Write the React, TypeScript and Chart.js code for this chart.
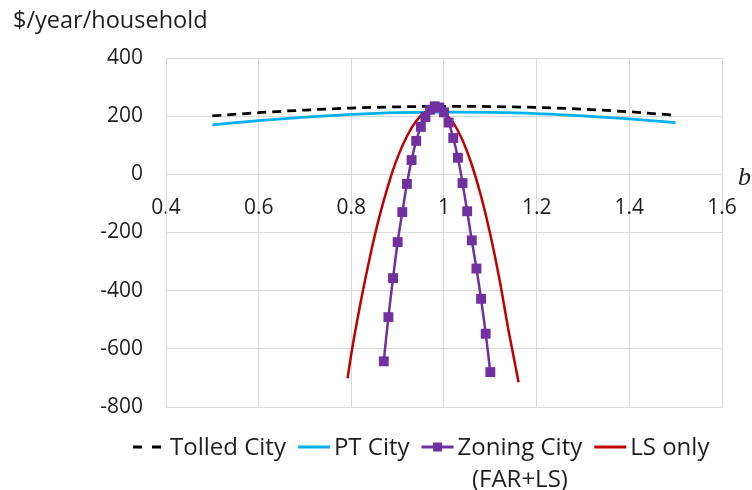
import React, { useEffect, useRef } from 'react';
import { Chart, registerables } from 'chart.js';

Chart.register(...registerables);

// ---- data ----
const xTickLabels = ['0.4', '0.6', '0.8', '1', '1.2', '1.4', '1.6'];
const yTickLabels = ['-800', '-600', '-400', '-200', '0', '200', '400'];

const tolledX = [0.5, 0.6, 0.7, 0.8, 0.9, 1.0, 1.1, 1.2, 1.3, 1.4, 1.5];
const tolledY = [201, 212, 221, 228, 232, 234, 233, 230, 224, 215, 203];

const ptX = [0.5, 0.6, 0.7, 0.8, 0.9, 1.0, 1.1, 1.2, 1.3, 1.4, 1.5];
const ptY = [170, 185, 197, 206, 212, 214, 213, 209, 201, 191, 178];

const zoningX = [0.87, 0.88, 0.89, 0.9, 0.91, 0.92, 0.93, 0.94, 0.95, 0.96, 0.97, 0.98,
  0.99, 1.0, 1.01, 1.02, 1.03, 1.04, 1.05, 1.06, 1.07, 1.08, 1.09, 1.1];
const zoningY = [-643, -491, -357, -233, -130, -33, 49, 115, 163, 197, 222, 234,
  230, 213, 178, 125, 57, -30, -127, -227, -324, -428, -548, -680];

const lsX = [0.792, 0.8, 0.82, 0.84, 0.86, 0.88, 0.9, 0.92, 0.94, 0.96, 0.98, 1.0,
  1.02, 1.04, 1.06, 1.08, 1.1, 1.12, 1.14, 1.161];
const lsY = [-701, -617, -441, -285, -149, -35, 59, 131, 183, 214, 222, 211,
  177, 117, 33, -75, -207, -363, -543, -715];

const seriesNames = ['Tolled City', 'PT City', 'Zoning City', 'LS only'];
const zoningSub = '(FAR+LS)';
const yTitle = '$/year/household';
const xTitle = 'b';

const FONT = "'Open Sans', 'Noto Sans', sans-serif";
const TEXT = '#1e1e1e';
const GRID = '#d9d9d9';
const C_TOLL = '#000000';
const C_PT = '#00B0F0';
const C_ZON = '#7030A0';
const C_LS = '#C00000';

const pts = (xs: number[], ys: number[]) => xs.map((x, i) => ({ x, y: ys[i] }));

const overlayPlugin = {
  id: 'overlay',
  afterDraw(chart: any) {
    const ctx = chart.ctx as CanvasRenderingContext2D;
    ctx.save();
    ctx.fillStyle = TEXT;
    ctx.textBaseline = 'alphabetic';
    ctx.textAlign = 'left';
    ctx.font = `23.5px ${FONT}`;
    ctx.fillText(yTitle, 13, 28);
    ctx.font = `italic 26px 'Liberation Serif', 'DejaVu Serif', serif`;
    ctx.fillText(xTitle, 738, 185);

    // legend
    ctx.font = `24px ${FONT}`;
    const baseY = 455;
    const midY = 447;
    let x = 133;
    const items = [
      { name: seriesNames[0], color: C_TOLL, dash: [9, 10], marker: false },
      { name: seriesNames[1], color: C_PT, dash: [], marker: false },
      { name: seriesNames[2], color: C_ZON, dash: [], marker: true },
      { name: seriesNames[3], color: C_LS, dash: [], marker: false },
    ];
    items.forEach((it, idx) => {
      const lineLen = 32;
      ctx.strokeStyle = it.color;
      ctx.lineWidth = 3;
      ctx.setLineDash(it.dash);
      ctx.beginPath();
      ctx.moveTo(x, midY);
      ctx.lineTo(x + lineLen, midY);
      ctx.stroke();
      ctx.setLineDash([]);
      if (it.marker) {
        ctx.fillStyle = it.color;
        ctx.fillRect(x + lineLen / 2 - 4.5, midY - 4.5, 9, 9);
      }
      const tx = x + lineLen + (idx === 0 ? 5 : 4);
      ctx.fillStyle = TEXT;
      ctx.fillText(it.name, tx, baseY);
      const w = ctx.measureText(it.name).width;
      if (idx === 2) {
        const sw = ctx.measureText(zoningSub).width;
        ctx.fillText(zoningSub, tx + (w - sw) / 2, baseY + 32);
      }
      x = tx + w + 12;
    });
    ctx.restore();
  },
};

export default function App() {
  const ref = useRef<HTMLCanvasElement | null>(null);
  useEffect(() => {
    document.body.style.margin = '0';
    const canvas = ref.current;
    if (!canvas) return;
    const chart = new Chart(canvas, {
      type: 'line',
      data: {
        datasets: [
          {
            label: seriesNames[0],
            data: pts(tolledX, tolledY),
            borderColor: C_TOLL,
            borderWidth: 2.75,
            borderDash: [9, 6],
            pointRadius: 0,
            cubicInterpolationMode: 'monotone',
            order: 4,
          },
          {
            label: seriesNames[1],
            data: pts(ptX, ptY),
            borderColor: C_PT,
            borderWidth: 2.75,
            pointRadius: 0,
            cubicInterpolationMode: 'monotone',
            order: 3,
          },
          {
            label: seriesNames[3],
            data: pts(lsX, lsY),
            borderColor: C_LS,
            borderWidth: 2.5,
            pointRadius: 0,
            cubicInterpolationMode: 'monotone',
            order: 2,
          },
          {
            label: seriesNames[2],
            data: pts(zoningX, zoningY),
            borderColor: C_ZON,
            backgroundColor: C_ZON,
            borderWidth: 2.5,
            pointStyle: 'rect',
            pointRadius: 7,
            pointBorderWidth: 0,
            pointBackgroundColor: C_ZON,
            tension: 0.3,
            order: 1,
          },
        ],
      },
      options: {
        responsive: false,
        animation: false,
        layout: { padding: { left: 0, top: 58, right: 30, bottom: 83 } },
        plugins: {
          legend: { display: false },
          title: { display: false },
          tooltip: { enabled: false },
        },
        scales: {
          x: {
            type: 'linear',
            position: { y: 0 } as any,
            min: 0.4,
            max: 1.6,
            afterFit: (s: any) => {
              s.height = 0;
              s.paddingLeft = 0;
              s.paddingRight = 0;
              s.paddingTop = 0;
              s.paddingBottom = 0;
            },
            afterBuildTicks: (s: any) => {
              s.ticks = xTickLabels.map((l) => ({ value: parseFloat(l) }));
            },
            ticks: {
              padding: 21,
              color: TEXT,
              font: { family: FONT, size: 21 },
              maxRotation: 0,
              autoSkip: false,
              callback: (v: any, i: number) => xTickLabels[i],
            },
            grid: { color: GRID, lineWidth: 1, drawTicks: false },
            border: { color: GRID, width: 1 },
          },
          y: {
            type: 'linear',
            position: 'left',
            min: -800,
            max: 400,
            afterFit: (s: any) => {
              s.width = 166;
              s.paddingTop = 0;
              s.paddingBottom = 0;
            },
            afterBuildTicks: (s: any) => {
              s.ticks = yTickLabels.map((l) => ({ value: parseFloat(l) }));
            },
            ticks: {
              padding: 23,
              color: TEXT,
              font: { family: FONT, size: 21 },
              callback: (v: any, i: number) => yTickLabels[i],
            },
            grid: { color: GRID, lineWidth: 1, drawTicks: false },
            border: { color: GRID, width: 1 },
          },
        },
      },
      plugins: [overlayPlugin],
    });
    return () => chart.destroy();
  }, []);
  return (
    <canvas ref={ref} width={752} height={490} style={{ display: 'block', width: 752, height: 490 }} />
  );
}
